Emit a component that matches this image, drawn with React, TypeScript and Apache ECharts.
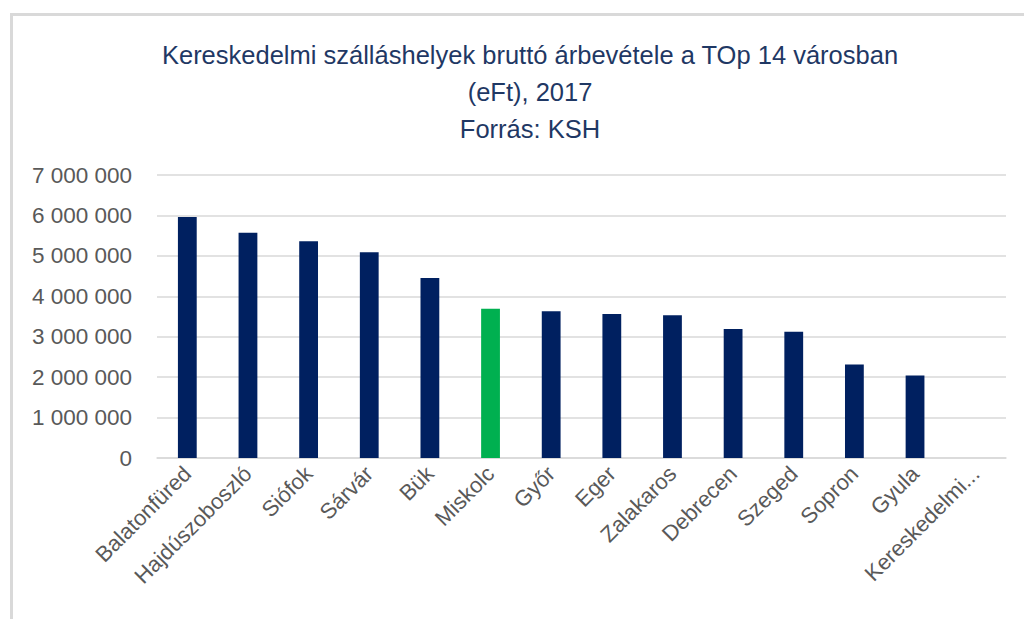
import React, { useEffect, useRef } from "react";
import * as echarts from "echarts";

const categories = [
  "Balatonfüred",
  "Hajdúszoboszló",
  "Siófok",
  "Sárvár",
  "Bük",
  "Miskolc",
  "Győr",
  "Eger",
  "Zalakaros",
  "Debrecen",
  "Szeged",
  "Sopron",
  "Gyula",
  "Kereskedelmi...",
];
const values: (number | null)[] = [
  5960000, 5570000, 5360000, 5090000, 4450000, 3690000, 3630000, 3560000,
  3530000, 3190000, 3120000, 2310000, 2040000, null,
];
const highlighted = "Miskolc";
const titleLines = [
  "Kereskedelmi szálláshelyek bruttó árbevétele a TOp 14 városban",
  "(eFt), 2017",
  "Forrás: KSH",
];

const NAVY = "#002060";
const GREEN = "#00B050";

export default function App() {
  const ref = useRef<HTMLDivElement>(null);
  useEffect(() => {
    if (!ref.current) return;
    const chart = echarts.init(ref.current, undefined, { renderer: "svg" });
    chart.setOption({
      animation: false,
      backgroundColor: "#ffffff",
      textStyle: { fontFamily: "Liberation Sans" },
      title: {
        text: titleLines.join("\n"),
        left: 525,
        top: 31,
        textAlign: "center",
        textStyle: {
          color: "#1f3864",
          fontSize: 25.5,
          fontWeight: "normal",
          lineHeight: 37,
          fontFamily: "Liberation Sans",
        },
      },
      graphic: [
        {
          type: "rect",
          shape: { x: 11.5, y: 14.5, width: 1100, height: 700 },
          style: { fill: "none", stroke: "#d9d9d9", lineWidth: 3 },
          silent: true,
        },
      ],
      grid: { left: 157, right: 18, top: 175, height: 283 },
      xAxis: {
        type: "category",
        data: categories,
        axisTick: { show: false },
        axisLine: { lineStyle: { color: "#d9d9d9", width: 1.5 } },
        axisLabel: {
          rotate: 45,
          interval: 0,
          color: "#595959",
          fontSize: 22,
          margin: 12,
        },
      },
      yAxis: {
        type: "value",
        min: 0,
        max: 7000000,
        interval: 1000000,
        axisLine: { show: false },
        axisTick: { show: false },
        splitLine: { lineStyle: { color: "#d9d9d9", width: 1.5 } },
        axisLabel: {
          color: "#595959",
          fontSize: 22.5,
          margin: 25,
          formatter: (v: number) =>
            String(v).replace(/\B(?=(\d{3})+(?!\d))/g, " "),
        },
      },
      series: [
        {
          type: "bar",
          barWidth: "31%",
          data: values.map((v, i) => ({
            value: v,
            itemStyle: {
              color: categories[i] === highlighted ? GREEN : NAVY,
            },
          })),
        },
      ],
    });
    return () => chart.dispose();
  }, []);
  return (
    <div
      ref={ref}
      style={{ position: "fixed", left: 0, top: 0, width: 1024, height: 619 }}
    />
  );
}
